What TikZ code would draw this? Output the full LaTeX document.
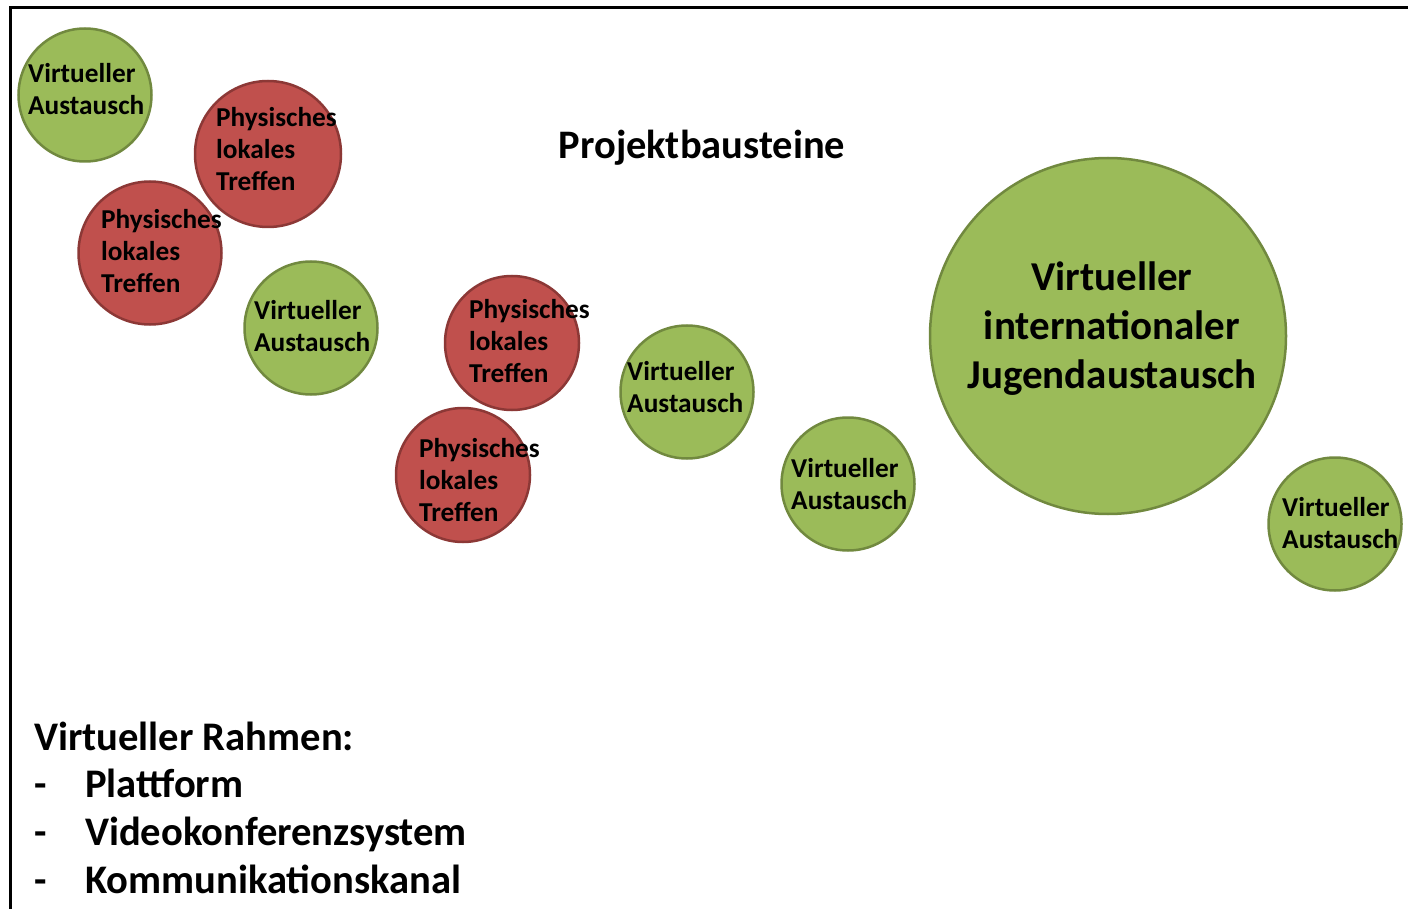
\documentclass[tikz,border=0pt]{standalone}
\usepackage{fontspec}
\setmainfont{Carlito}
\begin{document}
\begin{tikzpicture}[x=1pt,y=-1pt,
  green/.style={circle,draw=greenline,fill=greenfill,line width=2.5pt,inner sep=0pt,minimum size=#1},
  red/.style={circle,draw=redline,fill=redfill,line width=2.5pt,inner sep=0pt,minimum size=#1},
  small/.style={anchor=west,align=left,inner sep=0pt,font=\bfseries\fontsize{27.3}{32}\selectfont},
  big/.style={align=center,inner sep=0pt,font=\bfseries\fontsize{41}{49}\selectfont},
  listtext/.style={anchor=base west,inner sep=0pt,font=\bfseries\fontsize{40.6}{49}\selectfont}]
\definecolor{greenfill}{HTML}{9BBB59}
\definecolor{greenline}{HTML}{71893F}
\definecolor{redfill}{HTML}{C0504D}
\definecolor{redline}{HTML}{8C3836}
\useasboundingbox (0,0) rectangle (1408,909);
\draw[line width=3pt] (1410,8) -- (10,8) -- (10,911);
% circles
\node[green=133pt] (va1) at (85,95) {};
\node[red=146pt] (p1) at (268,154) {};
\node[red=143pt] (p2) at (150,253) {};
\node[green=133pt] (va2) at (311,328) {};
\node[red=134pt] (p3) at (512,343) {};
\node[red=134pt] (p4) at (463,475) {};
\node[green=133pt] (va3) at (687,392) {};
\node[green=133pt] (va4) at (848,484) {};
\node[green=356pt] (vij) at (1108,336) {};
\node[green=133pt] (va5) at (1335,524) {};
% texts
\node[small] (t1) at (28,89) {Virtueller\\Austausch};
\node[small] (t2) at (216,149) {Physisches\\lokales\\Treffen};
\node[small] (t3) at (101,251) {Physisches\\lokales\\Treffen};
\node[small] (t4) at (254,326) {Virtueller\\Austausch};
\node[small] (t5) at (469,341) {Physisches\\lokales\\Treffen};
\node[small] (t6) at (419,480) {Physisches\\lokales\\Treffen};
\node[small] (t7) at (627,387) {Virtueller\\Austausch};
\node[small] (t8) at (791,484) {Virtueller\\Austausch};
\node[small] (t9) at (1282,523) {Virtueller\\Austausch};
\node[big] (t10) at (1112,329) {Virtueller\\internationaler\\Jugendaustausch};
\node[inner sep=0pt,font=\bfseries\fontsize{40.5}{48}\selectfont] (title) at (702,148) {Projektbausteine};
\node[listtext] (rahmen) at (34,750) {Virtueller Rahmen:};
\node[listtext] (d1) at (34,797) {-};
\node[listtext] (d2) at (34,845) {-};
\node[listtext] (d3) at (34,893) {-};
\node[listtext] (i1) at (85,797) {Plattform};
\node[listtext] (i2) at (85,845) {Videokonferenzsystem};
\node[listtext] (i3) at (85,893) {Kommunikationskanal};
\end{tikzpicture}
\end{document}
